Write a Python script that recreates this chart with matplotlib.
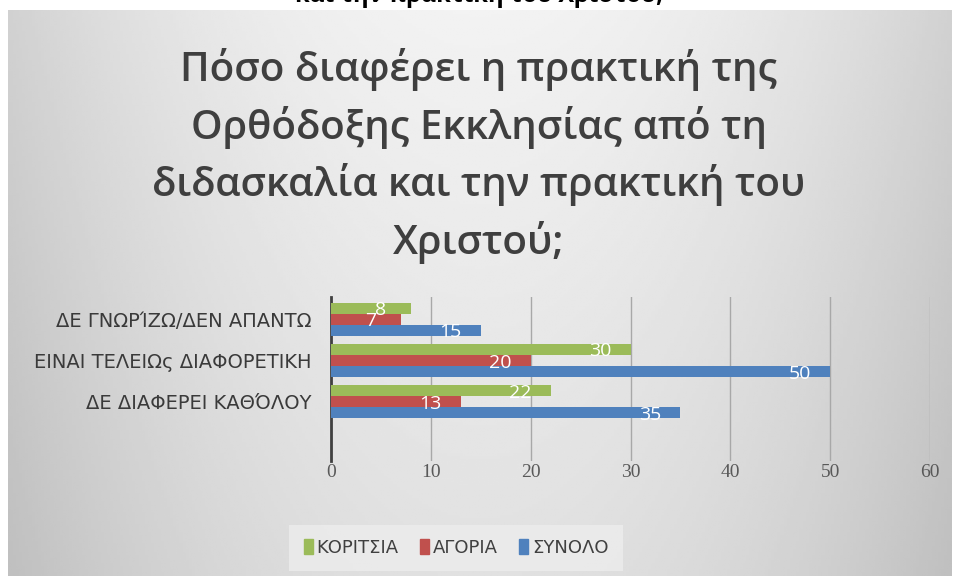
import matplotlib
matplotlib.use('Agg')
import matplotlib.pyplot as plt
import numpy as np
from matplotlib.patches import Patch

# Data
CATEGORIES = ['ΔΕ ΓΝΩΡΊΖΩ/ΔΕΝ ΑΠΑΝΤΩ', 'ΕΙΝΑΙ ΤΕΛΕΙΩς ΔΙΑΦΟΡΕΤΙΚΗ', 'ΔΕ ΔΙΑΦΕΡΕΙ ΚΑΘΌΛΟΥ']
GIRLS = [8, 30, 22]
BOYS = [7, 20, 13]
TOTAL = [15, 50, 35]
SERIES_NAMES = ['ΚΟΡΙΤΣΙΑ', 'ΑΓΟΡΙΑ', 'ΣΥΝΟΛΟ']
X_TICKS = [0, 10, 20, 30, 40, 50, 60]

COLORS = ['#9BBB59', '#C0504D', '#4F81BD']
TITLE = 'Πόσο διαφέρει η πρακτική της\nΟρθόδοξης Εκκλησίας από τη\nδιδασκαλία και την πρακτική του\nΧριστού;'
TEXT_FONT = ['Open Sans', 'DejaVu Sans']

W, H = 958, 576
fig = plt.figure(figsize=(W / 100, H / 100), dpi=100, facecolor='white')

# grey gradient background of the chart area
bg = fig.add_axes([8 / W, 0, 944 / W, 566 / H], zorder=-5)
xx = np.linspace(-1, 1, 300)
yy = np.linspace(0, 1, 200)
gx, gy = np.meshgrid(xx, yy)
shade = 0.95 - 0.13 * gx ** 2 - 0.07 * gy
bg.imshow(shade, cmap='gray', vmin=0, vmax=1, aspect='auto', extent=[0, 1, 1, 0])
bg.axis('off')

# clipped text from the page above
fig.text(0.5, 1 - 2 / H, 'και την πρακτική του Χριστού;', ha='center', va='baseline',
         fontsize=17, fontweight='bold', color='black', family=TEXT_FONT)

fig.text(0.5, 1 - 156 / H, TITLE, ha='center', va='center', fontsize=29,
         fontweight='semibold', color='#3F3F3F', family=TEXT_FONT, linespacing=1.45)

ax = fig.add_axes([331 / W, 1 - 461 / H, 599 / W, 164 / H])
ax.set_facecolor('none')

y = np.arange(len(CATEGORIES))
bh = 0.27
for i, (vals, col, name) in enumerate(zip([GIRLS, BOYS, TOTAL], COLORS, SERIES_NAMES)):
    pos = y + (i - 1) * bh
    bars = ax.barh(pos, vals, height=bh, color=col, label=name, zorder=3)
    for b, v in zip(bars, vals):
        ax.annotate(str(v), (b.get_width(), b.get_y() + b.get_height() / 2),
                    xytext=(-22, -1.5), textcoords='offset points', ha='center', va='center',
                    color='white', fontsize=14, family=TEXT_FONT, zorder=4)

ax.set_xlim(0, 60)
ax.set_ylim(3.44, -0.54)
ax.set_xticks(X_TICKS)
ax.set_xticklabels([str(t) for t in X_TICKS], family=['Liberation Serif', 'DejaVu Serif'],
                   fontsize=14, color='#595959')
ax.set_yticks(y)
ax.set_yticklabels(CATEGORIES, fontsize=14, color='#3A3A3A',
                   family=['DejaVu Sans'])
ax.tick_params(axis='x', length=0, pad=2)
ax.tick_params(axis='y', length=0, pad=14)
ax.grid(axis='x', color='#A8A8A8', linewidth=1, zorder=0)
for s in ['top', 'right', 'bottom']:
    ax.spines[s].set_visible(False)
ax.spines['left'].set_color('#404040')
ax.spines['left'].set_linewidth(2)

handles = [Patch(color=c) for c in COLORS]
leg = fig.legend(handles, SERIES_NAMES, loc='center', bbox_to_anchor=(456 / W, 1 - 548 / H),
                 ncol=3, frameon=True, handlelength=0.5, handleheight=0.9,
                 handletextpad=0.2, columnspacing=1.2, borderpad=0.5,
                 prop={'family': ['DejaVu Sans'], 'size': 13})
leg.get_frame().set_facecolor('#EDEDED')
leg.get_frame().set_edgecolor('none')
leg.get_frame().set_boxstyle('square')
for t in leg.get_texts():
    t.set_color('#404040')

fig.savefig('out.png', dpi=100)
